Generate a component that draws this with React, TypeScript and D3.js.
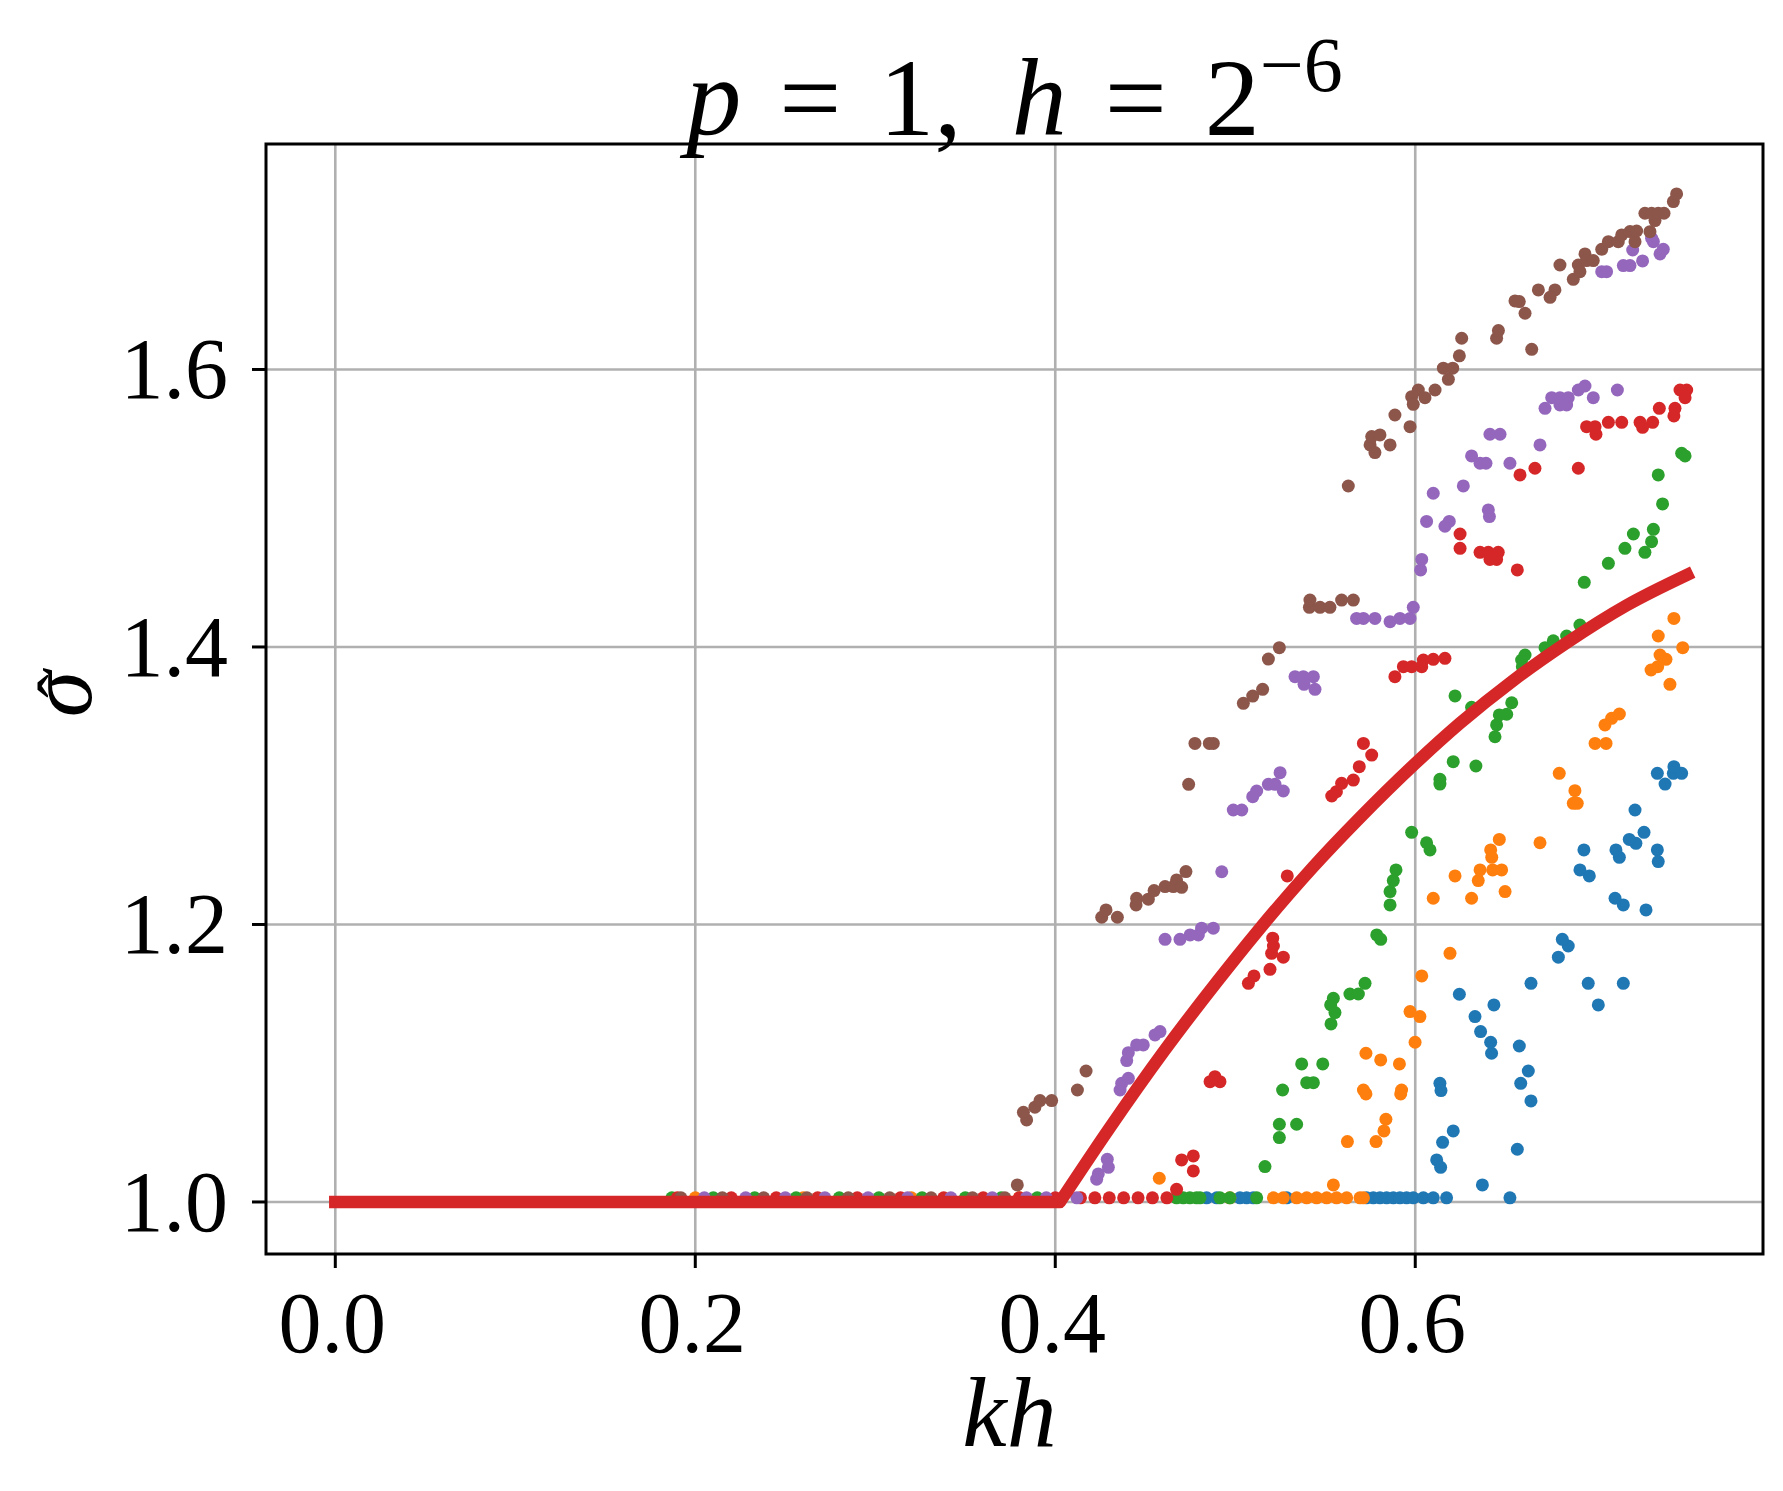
import { useEffect, useRef } from "react";
import * as d3 from "d3";

type Pt = [number, number];

const xTicks = [0, 0.2, 0.4, 0.6];
const yTicks = [1.0, 1.2, 1.4, 1.6];

// mode values, [kh, sigma-hat]
const blue: Pt[] = [
  [0.4841, 1.003], [0.4897, 1.003], [0.5026, 1.003], [0.5063, 1.003], [0.51, 1.003], [0.5286, 1.003],
  [0.573, 1.003], [0.5767, 1.003], [0.5804, 1.003], [0.5841, 1.003], [0.5878, 1.003], [0.5915, 1.003],
  [0.5952, 1.003], [0.5989, 1.003], [0.6045, 1.003], [0.61, 1.003], [0.6174, 1.003], [0.6526, 1.003],
  [0.6373, 1.0123], [0.6119, 1.0303], [0.6141, 1.025], [0.6152, 1.043], [0.6211, 1.0512], [0.6567, 1.038],
  [0.6137, 1.0855], [0.6143, 1.0803], [0.6643, 1.0728], [0.6586, 1.0855], [0.6628, 1.0944], [0.6578, 1.1124],
  [0.6424, 1.1072], [0.6419, 1.1151], [0.6363, 1.1228], [0.6332, 1.1336], [0.6437, 1.142], [0.6245, 1.1497],
  [0.6643, 1.1576], [0.6961, 1.1576], [0.7156, 1.1576], [0.7017, 1.142], [0.6795, 1.1764], [0.685, 1.1845],
  [0.6817, 1.1893], [0.7282, 1.2105], [0.7156, 1.2141], [0.711, 1.2189], [0.6967, 1.235], [0.6915, 1.2393],
  [0.6937, 1.2537], [0.7134, 1.2484], [0.7115, 1.2537], [0.7226, 1.2585], [0.7189, 1.2613], [0.7271, 1.2664],
  [0.7345, 1.2537], [0.735, 1.2453], [0.7221, 1.2825], [0.7345, 1.3089], [0.7388, 1.3012], [0.7434, 1.3089],
  [0.748, 1.3089], [0.7437, 1.3137],
];

const orange: Pt[] = [
  [0.2, 1.003], [0.26, 1.003], [0.32, 1.003], [0.38, 1.003],
  [0.497, 1.003], [0.5212, 1.003], [0.5267, 1.003], [0.5341, 1.003], [0.5397, 1.003], [0.5452, 1.003],
  [0.5508, 1.003], [0.5563, 1.003], [0.5619, 1.003], [0.5693, 1.003], [0.5712, 1.003],
  [0.4578, 1.0171], [0.5545, 1.0123], [0.5623, 1.0435], [0.5782, 1.0435], [0.5826, 1.0512], [0.5837, 1.0596],
  [0.5712, 1.0807], [0.5726, 1.0779], [0.5924, 1.0807], [0.5919, 1.0779], [0.5726, 1.1072], [0.5808, 1.1024],
  [0.5912, 1.0995], [0.5999, 1.1151], [0.5971, 1.1372], [0.6026, 1.1336], [0.6036, 1.1629], [0.6193, 1.1792],
  [0.61, 1.2189], [0.6313, 1.2189], [0.6499, 1.2237], [0.6221, 1.235], [0.635, 1.2316], [0.636, 1.2393],
  [0.643, 1.2393], [0.648, 1.2393], [0.6419, 1.2537], [0.6425, 1.2484], [0.6467, 1.2613], [0.6693, 1.2589],
  [0.68, 1.3089], [0.6887, 1.2964], [0.6878, 1.2873], [0.69, 1.2873], [0.6999, 1.3305], [0.706, 1.3305],
  [0.7054, 1.3438], [0.7091, 1.3486], [0.7134, 1.3517], [0.7415, 1.3731], [0.731, 1.3834], [0.7347, 1.3858],
  [0.7393, 1.3911], [0.736, 1.3942], [0.7486, 1.3995], [0.735, 1.4079], [0.7437, 1.4206],
];

const green: Pt[] = [
  [0.187, 1.003], [0.21, 1.003], [0.233, 1.003], [0.256, 1.003], [0.28, 1.003], [0.302, 1.003],
  [0.326, 1.003], [0.35, 1.003], [0.37, 1.003], [0.39, 1.003],
  [0.4674, 1.003], [0.4711, 1.003], [0.4748, 1.003], [0.4785, 1.003], [0.4804, 1.003], [0.4915, 1.003],
  [0.497, 1.003], [0.5119, 1.003],
  [0.5165, 1.0255], [0.5245, 1.0464], [0.5245, 1.056], [0.5341, 1.056], [0.5263, 1.0807], [0.5397, 1.086],
  [0.5434, 1.086], [0.5369, 1.0995], [0.5486, 1.0995], [0.5532, 1.1283], [0.5554, 1.1365], [0.553, 1.142],
  [0.5545, 1.1468], [0.5637, 1.1499], [0.5684, 1.1499], [0.5721, 1.1576], [0.5786, 1.1925], [0.5808, 1.1893],
  [0.586, 1.2141], [0.586, 1.2237], [0.5878, 1.2316], [0.5893, 1.2393], [0.6082, 1.2537], [0.6063, 1.2589],
  [0.598, 1.2664], [0.6137, 1.3012], [0.6137, 1.3046], [0.6211, 1.3173], [0.6337, 1.3142], [0.6443, 1.3353],
  [0.6452, 1.3438], [0.6467, 1.351], [0.6508, 1.3515], [0.6536, 1.3598], [0.6313, 1.3565], [0.6221, 1.3647],
  [0.6595, 1.3858], [0.6591, 1.3906], [0.661, 1.3942], [0.6721, 1.3995], [0.6786, 1.3995], [0.6767, 1.4045],
  [0.6841, 1.4079], [0.6915, 1.4158], [0.6939, 1.4466], [0.7073, 1.4603], [0.7165, 1.4711], [0.7276, 1.4682],
  [0.7212, 1.4814], [0.7313, 1.4759], [0.7323, 1.4848], [0.7374, 1.5031], [0.735, 1.524], [0.748, 1.5396],
  [0.7499, 1.5377],
];

const red: Pt[] = [
  [0.19, 1.003], [0.22, 1.003], [0.245, 1.003], [0.268, 1.003], [0.29, 1.003], [0.314, 1.003],
  [0.338, 1.003], [0.36, 1.003], [0.38, 1.003], [0.4, 1.003], [0.414, 1.003], [0.422, 1.003],
  [0.43, 1.003], [0.438, 1.003], [0.446, 1.003], [0.454, 1.003], [0.462, 1.003],
  [0.4674, 1.0091], [0.4767, 1.0224], [0.4702, 1.0303], [0.4767, 1.0332], [0.486, 1.0867], [0.4915, 1.0867],
  [0.4887, 1.0903], [0.5073, 1.1576], [0.5104, 1.1629], [0.5193, 1.1677], [0.5267, 1.1764], [0.5202, 1.1792],
  [0.5212, 1.1845], [0.5208, 1.1901], [0.5289, 1.235], [0.5536, 1.2926], [0.5562, 1.2957], [0.5591, 1.3017],
  [0.5656, 1.3041], [0.5689, 1.3137], [0.5712, 1.3305], [0.5758, 1.3221], [0.5887, 1.3786], [0.5934, 1.3858],
  [0.598, 1.3858], [0.6036, 1.3858], [0.6045, 1.3906], [0.61, 1.3911], [0.6165, 1.3918], [0.6249, 1.4711],
  [0.6249, 1.4814], [0.636, 1.4682], [0.6406, 1.4682], [0.6461, 1.4682], [0.6415, 1.4631], [0.6452, 1.4631],
  [0.6567, 1.4555], [0.6582, 1.524], [0.6665, 1.5288], [0.6906, 1.5288], [0.6952, 1.5588], [0.6999, 1.5588],
  [0.7004, 1.5533], [0.7073, 1.5619], [0.7147, 1.5619], [0.7249, 1.5619], [0.7263, 1.5583], [0.7319, 1.5619],
  [0.7356, 1.572], [0.7443, 1.572], [0.7437, 1.5665], [0.7471, 1.5852], [0.7508, 1.5852], [0.7499, 1.5797],
];

const purple: Pt[] = [
  [0.205, 1.003], [0.228, 1.003], [0.25, 1.003], [0.272, 1.003], [0.296, 1.003], [0.318, 1.003],
  [0.342, 1.003], [0.365, 1.003], [0.384, 1.003], [0.395, 1.003], [0.412, 1.003],
  [0.423, 1.0164], [0.4239, 1.0202], [0.4295, 1.025], [0.4289, 1.0308], [0.436, 1.0807], [0.4369, 1.0855],
  [0.4406, 1.0891], [0.4397, 1.1019], [0.4406, 1.1076], [0.4452, 1.1132], [0.4489, 1.1132], [0.4554, 1.1204],
  [0.4582, 1.1228], [0.461, 1.1893], [0.4693, 1.1893], [0.4749, 1.1925], [0.4795, 1.1925], [0.4813, 1.1973],
  [0.4878, 1.1973], [0.4925, 1.238], [0.4989, 1.2825], [0.5036, 1.2825], [0.5097, 1.2921], [0.5119, 1.2962],
  [0.5184, 1.301], [0.5221, 1.301], [0.5267, 1.2962], [0.5249, 1.3094], [0.5332, 1.3786], [0.5378, 1.3786],
  [0.5434, 1.3786], [0.5382, 1.3731], [0.5443, 1.3695], [0.5674, 1.4206], [0.5712, 1.4206], [0.5776, 1.4206],
  [0.586, 1.4182], [0.5915, 1.4206], [0.5971, 1.4206], [0.5989, 1.4286], [0.603, 1.4555], [0.6036, 1.4631],
  [0.6063, 1.4905], [0.6165, 1.487], [0.6189, 1.4905], [0.61, 1.5108], [0.6267, 1.5161], [0.6406, 1.4988],
  [0.6412, 1.494], [0.6313, 1.5377], [0.636, 1.5324], [0.6393, 1.5324], [0.6526, 1.5324], [0.6415, 1.5533],
  [0.6471, 1.5533], [0.6693, 1.5456], [0.6721, 1.572], [0.6758, 1.5797], [0.6804, 1.5797], [0.685, 1.5797],
  [0.6804, 1.5744], [0.6841, 1.5744], [0.6906, 1.5852], [0.6943, 1.5881], [0.6989, 1.5797], [0.7123, 1.5852],
  [0.7036, 1.6705], [0.7063, 1.6705], [0.7156, 1.6749], [0.7193, 1.6749], [0.7263, 1.6782], [0.7208, 1.6861],
  [0.7313, 1.6946], [0.7323, 1.6921], [0.7378, 1.6866], [0.736, 1.6833],
];

const brown: Pt[] = [
  [0.192, 1.003], [0.215, 1.003], [0.238, 1.003], [0.262, 1.003], [0.285, 1.003], [0.308, 1.003],
  [0.331, 1.003], [0.354, 1.003], [0.372, 1.003],
  [0.3789, 1.0123], [0.3841, 1.0591], [0.3823, 1.0646], [0.3887, 1.0683], [0.3915, 1.0731], [0.398, 1.0731],
  [0.4123, 1.0807], [0.4171, 1.0944], [0.4258, 1.2052], [0.4282, 1.2105], [0.4345, 1.2052], [0.4449, 1.2141],
  [0.4452, 1.2189], [0.4517, 1.2182], [0.4549, 1.2244], [0.461, 1.2273], [0.4656, 1.2273], [0.4674, 1.2321],
  [0.4702, 1.2268], [0.4726, 1.2381], [0.4741, 1.301], [0.4776, 1.3305], [0.4856, 1.3305], [0.4878, 1.3305],
  [0.5045, 1.3594], [0.5097, 1.3646], [0.5152, 1.3695], [0.5184, 1.3913], [0.5245, 1.3995], [0.5412, 1.4286],
  [0.5415, 1.4338], [0.5471, 1.4286], [0.5526, 1.4286], [0.5591, 1.4338], [0.5656, 1.4338], [0.5628, 1.516],
  [0.5749, 1.5456], [0.5776, 1.5401], [0.5758, 1.5516], [0.5804, 1.5528], [0.586, 1.5456], [0.5887, 1.5672],
  [0.5971, 1.5588], [0.598, 1.5804], [0.5989, 1.5749], [0.6017, 1.5852], [0.6054, 1.5797], [0.611, 1.5852],
  [0.6156, 1.6009], [0.6208, 1.6009], [0.6184, 1.5929], [0.6245, 1.6098], [0.6258, 1.6225], [0.6452, 1.6225],
  [0.6462, 1.628], [0.6647, 1.6145], [0.6554, 1.6494], [0.6578, 1.6489], [0.661, 1.6405], [0.6684, 1.6573],
  [0.6776, 1.6573], [0.6749, 1.652], [0.6804, 1.6753], [0.6906, 1.6753], [0.6878, 1.665], [0.6915, 1.6705],
  [0.6943, 1.6833], [0.6952, 1.6785], [0.6989, 1.6785], [0.7036, 1.6866], [0.7073, 1.6921], [0.7128, 1.6921],
  [0.7147, 1.697], [0.7221, 1.6921], [0.7193, 1.6994], [0.723, 1.6998], [0.7304, 1.6993], [0.7332, 1.7073],
  [0.7276, 1.7126], [0.7313, 1.7126], [0.735, 1.7126], [0.7382, 1.7126], [0.7434, 1.721], [0.7452, 1.7265],
];

const seriesList = [blue, orange, green, red, purple, brown];
const seriesColors = ["#1f77b4", "#ff7f0e", "#2ca02c", "#d62728", "#9467bd", "#8c564b"];

// the thick red reference curve
const curveKh = [0, 0.4026, 0.43, 0.46, 0.49, 0.5123, 0.5433, 0.5693, 0.6, 0.6248, 0.6541, 0.6841, 0.7174, 0.751];
const curveSigma = [1.0, 1.0, 1.053, 1.108, 1.159, 1.195, 1.2415, 1.277, 1.316, 1.345, 1.3755, 1.403, 1.43, 1.452];

const FONT = "'Liberation Serif', 'DejaVu Serif', serif";

export default function App() {
  const svgRef = useRef<SVGSVGElement | null>(null);

  useEffect(() => {
    const width = 1783;
    const height = 1491;
    const left = 266, right = 1763, top = 144, bottom = 1254;

    const x = d3.scaleLinear().domain([-0.0385, 0.7932]).range([left, right]);
    const y = d3.scaleLinear().domain([0.9625, 1.7625]).range([bottom, top]);

    const svg = d3.select(svgRef.current).attr("width", width).attr("height", height);
    svg.selectAll("*").remove();

    svg.append("rect").attr("width", width).attr("height", height).attr("fill", "#fff");

    // grid
    const grid = svg.append("g").attr("stroke", "#b0b0b0").attr("stroke-width", 2.6);
    xTicks.forEach((t) => {
      grid.append("line").attr("x1", x(t)).attr("x2", x(t)).attr("y1", top).attr("y2", bottom);
    });
    yTicks.forEach((t) => {
      grid.append("line").attr("x1", left).attr("x2", right).attr("y1", y(t)).attr("y2", y(t));
    });

    // scatter
    seriesList.forEach((pts, i) => {
      svg
        .append("g")
        .selectAll("circle")
        .data(pts)
        .enter()
        .append("circle")
        .attr("cx", (d) => x(d[0]))
        .attr("cy", (d) => y(d[1]))
        .attr("r", 6.5)
        .attr("fill", seriesColors[i]);
    });

    // red curve: straight flat piece, then smooth rise
    const rising: Pt[] = curveKh.slice(1).map((k, i) => [k, curveSigma[i + 1]]);
    const riseLine = d3
      .line<Pt>()
      .x((d) => x(d[0]))
      .y((d) => y(d[1]))
      .curve(d3.curveMonotoneX);
    const riseD = riseLine(rising) || "";
    const pathD = `M${x(curveKh[0])},${y(curveSigma[0])}L` + riseD.slice(1);
    svg
      .append("path")
      .attr("d", pathD)
      .attr("fill", "none")
      .attr("stroke", "#d62728")
      .attr("stroke-width", 12.5)
      .attr("stroke-linecap", "square")
      .attr("stroke-linejoin", "round");

    // spines
    svg
      .append("rect")
      .attr("x", left)
      .attr("y", top)
      .attr("width", right - left)
      .attr("height", bottom - top)
      .attr("fill", "none")
      .attr("stroke", "#000")
      .attr("stroke-width", 3);

    // ticks and labels
    const fmt = d3.format(".1f");
    const tk = svg.append("g").attr("stroke", "#000").attr("stroke-width", 3);
    xTicks.forEach((t) => {
      tk.append("line").attr("x1", x(t)).attr("x2", x(t)).attr("y1", bottom).attr("y2", bottom + 14);
      svg
        .append("text")
        .attr("x", x(t) - 3)
        .attr("y", bottom + 98)
        .attr("text-anchor", "middle")
        .attr("font-family", FONT)
        .attr("font-size", 86)
        .text(fmt(t));
    });
    yTicks.forEach((t) => {
      tk.append("line").attr("x1", left - 14).attr("x2", left).attr("y1", y(t)).attr("y2", y(t));
      svg
        .append("text")
        .attr("x", left - 38)
        .attr("y", y(t) + 29)
        .attr("text-anchor", "end")
        .attr("font-family", FONT)
        .attr("font-size", 86)
        .text(fmt(t));
    });

    // x label
    svg
      .append("text")
      .attr("x", (left + right) / 2 - 5)
      .attr("y", 1446)
      .attr("text-anchor", "middle")
      .attr("font-family", FONT)
      .attr("font-style", "italic")
      .attr("font-size", 100)
      .text("kh");

    // y label (sigma hat), rotated
    const yl = svg.append("g").attr("transform", `translate(62,694) rotate(-90)`);
    yl.append("text")
      .attr("x", 0)
      .attr("y", 29)
      .attr("text-anchor", "middle")
      .attr("font-family", FONT)
      .attr("font-style", "italic")
      .attr("font-size", 94)
      .text("σ");
    yl.append("text")
      .attr("x", 8)
      .attr("y", 24)
      .attr("text-anchor", "middle")
      .attr("font-family", FONT)
      .attr("font-size", 70)
      .text("ˆ");

    // title
    const title = svg
      .append("text")
      .attr("x", (left + right) / 2)
      .attr("y", 135)
      .attr("text-anchor", "middle")
      .attr("font-family", FONT)
      .attr("font-size", 110);
    title.append("tspan").attr("font-style", "italic").text("p");
    title.append("tspan").attr("dx", 38).text("=");
    title.append("tspan").attr("dx", 38).text("1,");
    title.append("tspan").attr("dx", 50).attr("font-style", "italic").text("h");
    title.append("tspan").attr("dx", 38).text("=");
    title.append("tspan").attr("dx", 38).text("2");
    title.append("tspan").attr("font-size", 78).attr("dy", -44).text("−6");

    return () => {
      svg.selectAll("*").remove();
    };
  }, []);

  return <svg ref={svgRef} style={{ position: "absolute", left: 0, top: 0, display: "block" }} />;
}
